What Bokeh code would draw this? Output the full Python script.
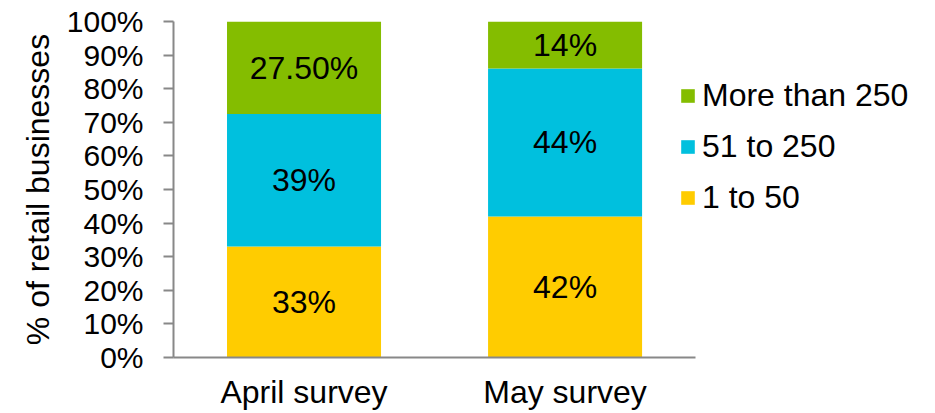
from bokeh.plotting import figure
from bokeh.models import Range1d, PrintfTickFormatter, FixedTicker, Legend, LegendItem, ColumnDataSource
from bokeh.core.properties import value
from bokeh.embed import file_html
from bokeh.resources import INLINE

categories = ["April survey", "May survey"]
series = ["1 to 50", "51 to 250", "More than 250"]
small = [33, 42]
medium = [39.5, 44]
large = [27.5, 14]
small_labels = ["33%", "42%"]
medium_labels = ["39%", "44%"]
large_labels = ["27.50%", "14%"]
colors = ["#FFCC00", "#00C0DE", "#84BD00"]

FONT = "Liberation Sans"

# category slots: each category occupies one unit on the x scale
xpos = [i + 0.5 for i in range(len(categories))]
n = len(categories)

p = figure(x_range=Range1d(0, 2.919), y_range=Range1d(0, 100),
           width=935, height=413, output_backend="svg", toolbar_location=None,
           min_border_left=173, min_border_right=0, min_border_top=21, min_border_bottom=56)
p.outline_line_color = None
p.xgrid.grid_line_color = None
p.ygrid.grid_line_color = None

src = ColumnDataSource(dict(x=xpos, s1=small, s2=medium, s3=large))
rs = p.vbar_stack(["s1", "s2", "s3"], x="x", width=0.59, source=src,
                  color=colors, line_color=None)

# segment labels
vals = [small, medium, large]
labs = [small_labels, medium_labels, large_labels]
bottoms = [0] * n
lx, ly, lt = [], [], []
for v, l in zip(vals, labs):
    for i in range(n):
        lx.append(xpos[i])
        ly.append(bottoms[i] + v[i] / 2)
        lt.append(l[i])
    bottoms = [b + vv for b, vv in zip(bottoms, v)]
p.text(x=lx, y=ly, text=lt, text_align="center", text_baseline="middle",
       text_font=value(FONT), text_font_size="32px", text_color="#000000")

# axes
p.yaxis.ticker = FixedTicker(ticks=list(range(0, 101, 10)))
p.yaxis.formatter = PrintfTickFormatter(format="%d%%")
p.yaxis.axis_label = "% of retail businesses"
p.xaxis.ticker = FixedTicker(ticks=xpos)
p.xaxis.major_label_overrides = {x: c for x, c in zip(xpos, categories)}
p.xaxis.bounds = (0, n)
for ax in (p.xaxis[0], p.yaxis[0]):
    ax.axis_line_color = "#888888"
    ax.axis_line_width = 2
    ax.major_tick_line_color = "#888888"
    ax.major_tick_line_width = 2
    ax.minor_tick_line_color = None
    ax.major_label_text_font = FONT
    ax.major_label_text_color = "#000000"
    ax.axis_label_text_font = FONT
    ax.axis_label_text_font_style = "normal"
    ax.axis_label_text_color = "#000000"
p.yaxis.major_tick_out = 10
p.yaxis.major_tick_in = 0
p.yaxis.major_label_text_font_size = "30px"
p.yaxis.major_label_standoff = 20
p.yaxis.axis_label_text_font_size = "32px"
p.yaxis.axis_label_standoff = 8
p.xaxis.major_tick_line_color = None
p.xaxis.major_tick_out = 0
p.xaxis.major_tick_in = 0
p.xaxis.major_label_text_font_size = "32px"
p.xaxis.major_label_standoff = 16

legend = Legend(items=[LegendItem(label="More than 250", renderers=[rs[2]]),
                       LegendItem(label="51 to 250", renderers=[rs[1]]),
                       LegendItem(label="1 to 50", renderers=[rs[0]])],
                location=(506, 141), glyph_width=17, glyph_height=17, label_height=34,
                spacing=14, padding=0, margin=0, label_standoff=6,
                border_line_color=None, background_fill_alpha=0,
                label_text_font=FONT, label_text_font_size="32px", label_text_color="#000000")
p.add_layout(legend, "center")

open("out.html", "w").write(file_html(p, INLINE))
